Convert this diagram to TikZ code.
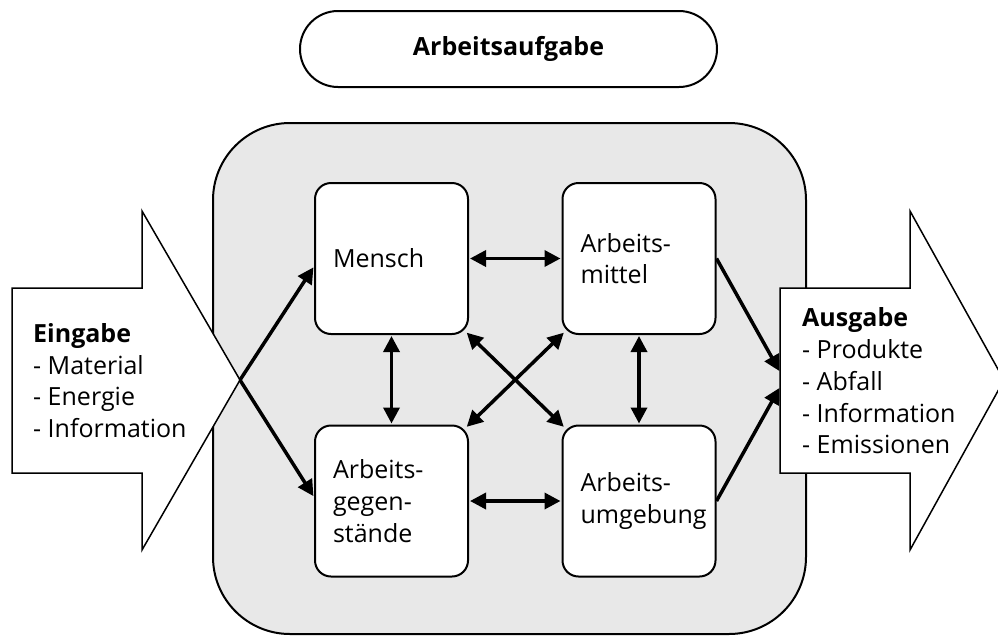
\documentclass[tikz,border=0pt]{standalone}
\usepackage{fontspec}
\setmainfont{Open Sans}
\usetikzlibrary{arrows.meta, positioning}
\definecolor{panelgray}{RGB}{232,232,232}

\begin{document}
\begin{tikzpicture}[
  x=1pt, y=-1pt,
  font=\fontsize{25}{31.7}\selectfont,
  panel/.style={draw, line width=2pt, rounded corners=77pt, fill=panelgray, minimum width=593pt, minimum height=511pt},
  task/.style={draw, line width=2pt, rounded corners=38pt, fill=white, minimum width=417pt, minimum height=76pt},
  elem/.style={draw, line width=2pt, rounded corners=16pt, fill=white, minimum width=153pt, minimum height=151pt, text width=117pt, inner xsep=18pt, inner ysep=0pt, align=left},
  block/.style={draw, line width=1.5pt, fill=white, line join=miter},
  io/.style={anchor=west, align=left, inner sep=0pt},
  link/.style={{Triangle[length=16pt, width=16pt]}-{Triangle[length=16pt, width=16pt]}, line width=3.5pt, shorten <=1pt, shorten >=1pt},
  flow/.style={-{Triangle[length=16pt, width=16pt]}, line width=3.5pt, shorten >=1pt},
]
\useasboundingbox (0,0) rectangle (998,635);

\node[task] (aufgabe) at (508.5,49) {\textbf{Arbeitsaufgabe}};
\node[panel] (system) at (509.5,378.5) {};

\draw[block] (12,288) -- (142,288) -- (142,211) -- (240,380) -- (142,550) -- (142,473) -- (12,473) -- cycle;
\draw[block] (780,288) -- (910,288) -- (910,211) -- (1004,380) -- (910,550) -- (910,473) -- (780,473) -- cycle;
\coordinate (intip) at (240,380);
\coordinate (outtop) at (780,372);
\coordinate (outbot) at (780,387);

\node[io] (eingabe) at (33,380.5) {\textbf{Eingabe}\\- Material\\- Energie\\- Information};
\node[io] (ausgabe) at (802,381) {\textbf{Ausgabe}\\- Produkte\\- Abfall\\- Information\\- Emissionen};

\node[elem] (mensch) at (391.5,258.5) {Mensch};
\node[elem] (mittel) at (639,258.5) {Arbeits-\\mittel};
\node[elem] (gegen) at (391.5,501) {Arbeits-\\gegen-\\stände};
\node[elem] (umgeb) at (639,501) {Arbeits-\\umgebung};

\draw[link] (mensch) -- (mittel);
\draw[link] (gegen) -- (umgeb);
\draw[link] (mensch) -- (gegen);
\draw[link] (mittel) -- (umgeb);
\draw[link] ([shift={(-3pt,3pt)}]mensch.south east) -- ([shift={(3pt,-3pt)}]umgeb.north west);
\draw[link] ([shift={(3pt,3pt)}]mittel.south west) -- ([shift={(-3pt,-3pt)}]gegen.north east);

\draw[flow] (intip) -- ([yshift=-8pt]mensch.west);
\draw[flow] (intip) -- ([yshift=4pt]gegen.west);
\draw[flow] (mittel.east) -- (outtop);
\draw[flow] (umgeb.east) -- (outbot);
\end{tikzpicture}
\end{document}
